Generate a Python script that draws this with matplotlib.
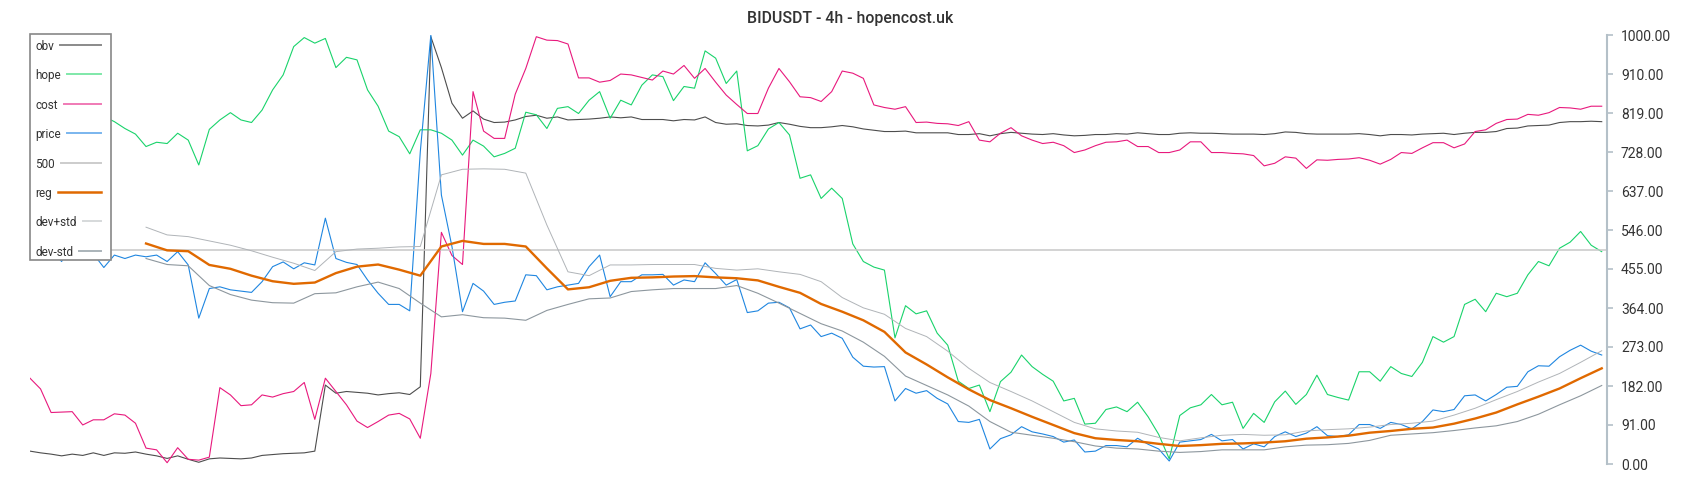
import numpy as np
import matplotlib.pyplot as plt
from matplotlib.lines import Line2D

plt.rcParams['font.family'] = ['Roboto', 'DejaVu Sans']

title = 'BIDUSDT - 4h - hopencost.uk'
tick_values = np.arange(12) * 1000 / 11
tick_labels = ['0.00', '91.00', '182.00', '273.00', '364.00', '455.00',
               '546.00', '637.00', '728.00', '819.00', '910.00', '1000.00']

# candle index of the sampled points
candle = np.arange(0, 300, 2)
band_candle = np.arange(22, 300, 4)
level = 500

obv = [30, 26, 23, 19, 23, 20, 26, 20, 26, 25,
       28, 23, 19, 13, 19, 11, 4, 12, 14, 13,
       12, 14, 20, 22, 24, 25, 26, 30, 184, 165,
       169, 167, 165, 161, 164, 166, 162, 180, 996, 924,
       841, 806, 823, 804, 796, 797, 802, 810, 813, 806,
       809, 802, 803, 804, 806, 809, 807, 809, 803, 803,
       803, 800, 803, 802, 809, 796, 792, 793, 789, 788,
       790, 796, 792, 787, 784, 784, 786, 789, 786, 781,
       778, 775, 775, 776, 772, 772, 772, 772, 768, 768,
       770, 765, 770, 773, 771, 769, 768, 770, 767, 765,
       766, 768, 768, 770, 769, 772, 770, 768, 768, 771,
       772, 771, 771, 770, 769, 769, 769, 768, 770, 774,
       773, 770, 769, 769, 769, 769, 770, 768, 765, 768,
       768, 767, 769, 770, 771, 768, 771, 773, 773, 775,
       782, 783, 788, 789, 790, 796, 798, 798, 799, 798]

hope = [760, 720, 790, 750, 700, 740, 780, 810, 798, 782,
        769, 740, 750, 747, 771, 755, 697, 780, 802, 819,
        802, 796, 825, 872, 907, 973, 994, 981, 992, 924,
        948, 942, 872, 834, 776, 763, 723, 779, 779, 771,
        755, 720, 755, 741, 716, 724, 736, 820, 814, 782,
        829, 833, 817, 848, 868, 806, 848, 837, 883, 907,
        903, 847, 880, 876, 963, 946, 887, 916, 730, 742,
        781, 796, 767, 666, 674, 619, 643, 619, 513, 472,
        459, 452, 294, 369, 350, 357, 305, 277, 193, 176,
        184, 122, 192, 214, 254, 227, 209, 193, 147, 153,
        93, 95, 127, 133, 122, 144, 110, 69, 12, 113,
        131, 138, 162, 138, 144, 83, 118, 97, 145, 170,
        139, 162, 207, 162, 155, 149, 215, 215, 193, 227,
        211, 204, 237, 297, 284, 297, 372, 384, 355, 398,
        390, 398, 441, 472, 462, 503, 517, 542, 510, 495]

cost = [200, 175, 120, 121, 122, 91, 103, 103, 117, 114,
        95, 37, 33, 3, 38, 11, 9, 16, 178, 161,
        136, 138, 161, 156, 164, 169, 190, 104, 200, 169,
        138, 100, 85, 99, 114, 118, 105, 60, 211, 540,
        486, 465, 868, 776, 759, 759, 862, 922, 996, 988,
        987, 979, 900, 900, 890, 894, 909, 907, 901, 895,
        916, 909, 929, 899, 922, 890, 860, 838, 817, 817,
        876, 922, 891, 856, 854, 845, 868, 916, 911, 899,
        837, 831, 827, 833, 796, 797, 794, 793, 789, 798,
        755, 751, 771, 784, 765, 755, 747, 750, 742, 726,
        732, 742, 750, 751, 755, 740, 740, 726, 726, 732,
        751, 751, 726, 726, 724, 723, 719, 695, 701, 716,
        713, 689, 709, 708, 710, 711, 714, 708, 699, 710,
        726, 724, 737, 749, 749, 737, 746, 775, 779, 794,
        803, 804, 815, 813, 819, 831, 830, 827, 834, 834]

price = [510, 490, 500, 472, 520, 500, 490, 458, 487, 479,
         487, 483, 487, 472, 495, 464, 340, 409, 413, 406,
         403, 400, 425, 460, 471, 455, 469, 464, 573, 479,
         470, 465, 429, 398, 372, 372, 357, 728, 1000, 627,
         507, 355, 421, 403, 372, 377, 380, 441, 439, 406,
         413, 417, 421, 460, 487, 390, 425, 425, 441, 441,
         442, 417, 429, 425, 469, 444, 417, 430, 353, 357,
         375, 377, 364, 315, 324, 297, 305, 293, 249, 228,
         226, 227, 147, 176, 165, 171, 153, 140, 99, 97,
         104, 35, 59, 68, 87, 75, 70, 64, 51, 56,
         28, 30, 43, 43, 40, 60, 46, 35, 7, 51,
         54, 57, 69, 54, 57, 35, 47, 40, 64, 75,
         64, 72, 87, 66, 64, 68, 92, 92, 83, 97,
         92, 82, 99, 126, 122, 127, 159, 161, 147, 162,
         179, 181, 215, 229, 228, 250, 265, 277, 263, 254]

reg = [514, 498, 496, 464, 455, 439, 426, 420, 423, 445,
       460, 465, 453, 439, 507, 520, 513, 513, 507, 456,
       407, 412, 427, 434, 435, 437, 438, 435, 433, 428,
       413, 399, 373, 355, 335, 308, 260, 232, 202, 174,
       149, 130, 110, 91, 72, 60, 56, 53, 47, 42,
       44, 47, 48, 50, 53, 59, 62, 66, 73, 77,
       82, 85, 94, 106, 120, 139, 157, 176, 200, 223]

dev_up = [552, 534, 530, 520, 510, 497, 482, 468, 451, 495,
          501, 503, 506, 507, 674, 687, 688, 687, 678, 557,
          448, 439, 464, 464, 465, 465, 465, 456, 452, 455,
          448, 442, 425, 388, 364, 349, 316, 297, 263, 223,
          190, 169, 147, 122, 97, 82, 77, 74, 62, 54,
          61, 67, 69, 67, 68, 77, 80, 82, 86, 92,
          95, 100, 114, 130, 150, 169, 191, 211, 237, 264]

dev_dn = [479, 465, 462, 416, 395, 382, 376, 375, 397, 399,
          413, 424, 409, 375, 343, 348, 341, 340, 335, 358,
          372, 385, 387, 402, 406, 409, 409, 409, 416, 398,
          375, 351, 327, 310, 284, 251, 205, 183, 161, 135,
          99, 74, 67, 60, 52, 42, 37, 35, 30, 27,
          29, 33, 33, 33, 40, 44, 45, 48, 55, 67,
          70, 73, 78, 84, 89, 99, 116, 138, 159, 183]

legend_labels = ['obv', 'hope', 'cost', 'price', '500', 'reg', 'dev+std', 'dev-std']
legend_colors = ['#8a8a8a', '#7fe8a9', '#f07ab6', '#7ab6ee', '#cccccc',
                 '#e06900', '#d6d9db', '#aab3b9']

W, H = 1700, 500
fig = plt.figure(figsize=(17, 5), dpi=100)
ax = fig.add_axes([30 / W, 36 / H, 1577 / W, 429 / H])

ax.plot(candle, obv, color='#4d4d4d', lw=0.8)
ax.plot(candle, hope, color='#19d36b', lw=0.8)
ax.plot(candle, cost, color='#e8197d', lw=0.8)
ax.plot(candle, price, color='#1f86e0', lw=0.8)
ax.axhline(level, color='#c8c8c8', lw=1.1)
ax.plot(band_candle, reg, color='#e06900', lw=1.7)
ax.plot(band_candle, dev_up, color='#b0b4b8', lw=0.7)
ax.plot(band_candle, dev_dn, color='#8d979e', lw=0.8)

ax.set_xlim(0, 299)
ax.set_ylim(0, 1000)
for side in ['top', 'left', 'bottom']:
    ax.spines[side].set_visible(False)
ax.spines['right'].set_color('#b4c0c8')
ax.spines['right'].set_linewidth(1.5)
ax.yaxis.tick_right()
ax.set_yticks(tick_values, tick_labels)
ax.set_xticks([])
ax.tick_params(axis='y', length=4, width=1.2, color='#b4c0c8',
               labelsize=10, labelcolor='#333333', pad=6)

# legend box: label on the left, sample line filling the rest of the row
box = plt.Rectangle((30 / W, 1 - 260 / H), 81 / W, 226 / H, transform=fig.transFigure,
                    facecolor='white', edgecolor='#888888', lw=1.2, zorder=5)
fig.add_artist(box)
renderer = fig.canvas.get_renderer()
for k, (lab, col) in enumerate(zip(legend_labels, legend_colors)):
    y = 1 - (45 + 29.4 * k) / H
    t = fig.text(35 / W, y, lab, ha='left', va='center_baseline', fontsize=8.5,
                 color='#333333', zorder=6)
    x0 = t.get_window_extent(renderer).x1 + 6
    fig.add_artist(Line2D([x0 / W, 101 / W], [y, y], transform=fig.transFigure,
                          color=col, lw=1.8 if lab == 'reg' else 1.4, zorder=6))

fig.text(0.5, 1 - 18 / H, title, ha='center', va='center',
         fontsize=11.4, color='#333333', fontweight='medium')

fig.savefig('out.png', dpi=100)
